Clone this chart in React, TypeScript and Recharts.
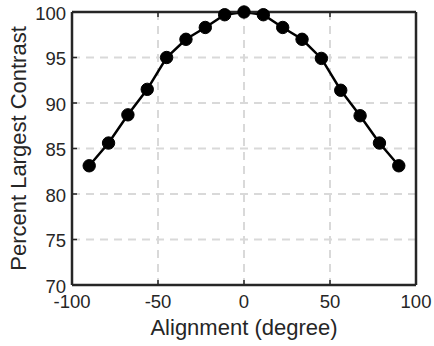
import { CartesianGrid, Label, Line, LineChart, XAxis, YAxis } from "recharts";

const angles = [
  -90, -78.75, -67.5, -56.25, -45, -33.75, -22.5, -11.25, 0, 11.25, 22.5,
  33.75, 45, 56.25, 67.5, 78.75, 90,
];
const contrast = [
  83.1, 85.6, 88.7, 91.5, 95.0, 97.0, 98.3, 99.7, 100, 99.7, 98.3, 97.0, 94.9,
  91.4, 88.6, 85.6, 83.1,
];
const xTicks = [-100, -50, 0, 50, 100];
const yTicks = [70, 75, 80, 85, 90, 95, 100];
// grid only shows inside the box
const xGrid = [-50, 0, 50];
const yGrid = [75, 80, 85, 90, 95];

const data = angles.map((angle, i) => ({ angle, value: contrast[i] }));

const FONT = "Arial, 'Liberation Sans', Helvetica, sans-serif";
const INK = "#262626";
const axisLineStyle = { stroke: INK, strokeWidth: 2.5 };
const tickLineStyle = { stroke: INK, strokeWidth: 1.5 };

function XTick({ x, y, payload }: any) {
  return (
    <text x={x} y={y} dy="0.71em" textAnchor="middle" fontSize={18.5} fontFamily={FONT} fill={INK}>
      {payload.value}
    </text>
  );
}

function YTick({ x, y, payload }: any) {
  return (
    <text x={x} y={y} dy="0.42em" textAnchor="end" fontSize={18.5} fontFamily={FONT} fill={INK}>
      {payload.value}
    </text>
  );
}

const NoTick = () => <g />;

export default function App() {
  return (
    <div style={{ position: "absolute", left: 0, top: 0 }}>
      <LineChart
        width={434}
        height={346}
        data={data}
        margin={{ top: 11, right: 17, left: 0, bottom: 0 }}
      >
        <CartesianGrid
          xAxisId="bottom"
          yAxisId="left"
          stroke="#d9d9d9"
          strokeWidth={2}
          strokeDasharray="8 6"
          horizontalValues={yGrid}
          verticalValues={xGrid}
        />
        <XAxis
          xAxisId="bottom"
          dataKey="angle"
          type="number"
          domain={[-100, 100]}
          ticks={xTicks}
          height={61}
          stroke={INK}
          tickSize={-5}
          tickMargin={15}
          axisLine={axisLineStyle}
          tickLine={tickLineStyle}
          tick={XTick}
        >
          <Label
            content={({ viewBox }: any) => (
              <text
                x={viewBox.x + viewBox.width / 2}
                y={viewBox.y + 50}
                textAnchor="middle"
                fontSize={22}
                fontFamily={FONT}
                fill={INK}
              >
                Alignment (degree)
              </text>
            )}
          />
        </XAxis>
        <XAxis
          xAxisId="top"
          orientation="top"
          dataKey="angle"
          type="number"
          domain={[-100, 100]}
          ticks={xTicks}
          height={1}
          stroke={INK}
          tickSize={-5}
          axisLine={axisLineStyle}
          tickLine={tickLineStyle}
          tick={NoTick}
        />
        <YAxis
          yAxisId="left"
          type="number"
          domain={[70, 100]}
          ticks={yTicks}
          width={72}
          stroke={INK}
          tickSize={-5}
          tickMargin={11}
          axisLine={axisLineStyle}
          tickLine={tickLineStyle}
          tick={YTick}
        >
          <Label
            content={({ viewBox }: any) => {
              const cx = viewBox.x + 25.5;
              const cy = viewBox.y + viewBox.height / 2;
              return (
                <text
                  x={cx}
                  y={cy}
                  transform={`rotate(-90 ${cx} ${cy})`}
                  textAnchor="middle"
                  fontSize={22}
                  fontFamily={FONT}
                  fill={INK}
                >
                  Percent Largest Contrast
                </text>
              );
            }}
          />
        </YAxis>
        <YAxis
          yAxisId="right"
          orientation="right"
          type="number"
          domain={[70, 100]}
          ticks={yTicks}
          width={1}
          stroke={INK}
          tickSize={-5}
          axisLine={axisLineStyle}
          tickLine={tickLineStyle}
          tick={NoTick}
        />
        <Line
          xAxisId="bottom"
          yAxisId="left"
          type="linear"
          dataKey="value"
          stroke="#000"
          strokeWidth={2.5}
          dot={{ r: 6.2, fill: "#000", stroke: "#000", strokeWidth: 1 }}
          activeDot={false}
          isAnimationActive={false}
        />
      </LineChart>
    </div>
  );
}
